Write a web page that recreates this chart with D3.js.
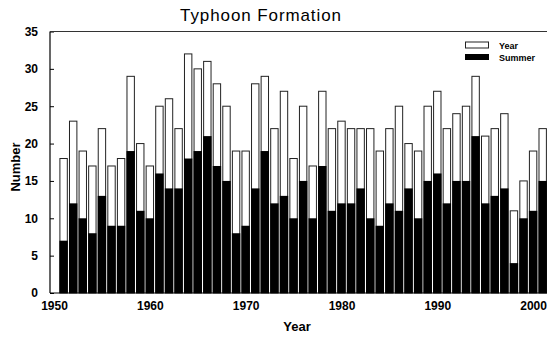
<!DOCTYPE html>
<html><head><meta charset="utf-8">
<script src="https://cdn.jsdelivr.net/npm/d3@7"></script>
<style>body{margin:0;background:#fff}svg{display:block}text{font-family:"Liberation Sans",Arial,sans-serif}</style>
</head><body>
<script>
const years = d3.range(1951, 2002);
const yearTotal = [18,23,19,17,22,17,18,29,20,17,25,26,22,32,30,31,28,25,19,19,28,29,22,27,18,25,17,27,22,23,22,22,22,19,22,25,20,19,25,27,22,24,25,29,21,22,24,11,15,19,22];
const summer = [7,12,10,8,13,9,9,19,11,10,16,14,14,18,19,21,17,15,8,9,14,19,12,13,10,15,10,17,11,12,12,14,10,9,12,11,14,10,15,16,12,15,15,21,12,13,14,4,10,11,15];
const yTicks = [0,5,10,15,20,25,30,35];
const xTicks = [1950,1960,1970,1980,1990,2000];

const W=547,H=338;
const svg=d3.select("body").append("svg").attr("width",W).attr("height",H);
const L=50,R=547,T=31.5,B=293;
const x=d3.scaleLinear().domain([1949.58,2001.45]).range([L,R]);
const y=d3.scaleLinear().domain([0,35]).range([B,T]);
const bw=7.4;

const g=svg.append("g");
g.selectAll("rect.yr").data(years).enter().append("rect")
 .attr("x",d=>x(d)-bw/2).attr("width",bw)
 .attr("y",(d,i)=>y(yearTotal[i])).attr("height",(d,i)=>B-y(yearTotal[i]))
 .attr("fill","#fff").attr("stroke","#222").attr("stroke-width",1);
g.selectAll("rect.sm").data(years).enter().append("rect")
 .attr("x",d=>x(d)-bw/2-0.5).attr("width",bw+1)
 .attr("y",(d,i)=>y(summer[i])).attr("height",(d,i)=>B-y(summer[i]))
 .attr("fill","#000");

// axes
const ya=svg.append("g").attr("transform",`translate(${L},0)`)
 .call(d3.axisLeft(y).tickValues(yTicks).tickSize(-4).tickPadding(12));
ya.select(".domain").remove();
ya.selectAll("text").attr("font-size",12).attr("font-weight","bold").attr("fill","#000");
ya.selectAll("line").attr("stroke","#000");
const xa=svg.append("g").attr("transform",`translate(0,${B})`)
 .call(d3.axisBottom(x).tickValues(xTicks).tickFormat(d3.format("d")).tickSize(0).tickPadding(8));
xa.select(".domain").remove();
xa.selectAll("text").attr("font-size",12).attr("font-weight","bold").attr("fill","#000");

svg.append("line").attr("x1",L).attr("x2",L).attr("y1",T).attr("y2",B).attr("stroke","#000").attr("stroke-width",1.2);
svg.append("line").attr("x1",L).attr("x2",R).attr("y1",B).attr("y2",B).attr("stroke","#000").attr("stroke-width",1.2);
svg.append("line").attr("x1",L).attr("x2",R).attr("y1",T).attr("y2",T).attr("stroke","#333").attr("stroke-width",1);

// titles
svg.append("text").attr("x",261).attr("y",21).attr("text-anchor","middle").attr("font-size",17).attr("letter-spacing",0.9).attr("fill","#000").text("Typhoon Formation");
svg.append("text").attr("x",297).attr("y",331).attr("text-anchor","middle").attr("font-size",13).attr("font-weight","bold").attr("fill","#000").text("Year");
svg.append("text").attr("transform","translate(20,167) rotate(-90)").attr("text-anchor","middle").attr("font-size",13).attr("font-weight","bold").attr("fill","#000").text("Number");

// legend
const lg=svg.append("g");
lg.append("rect").attr("x",465.5).attr("y",42).attr("width",23).attr("height",6).attr("fill","#fff").attr("stroke","#222");
lg.append("rect").attr("x",465).attr("y",54).attr("width",24).attr("height",6).attr("fill","#000");
lg.append("text").attr("x",499).attr("y",48.5).attr("font-size",9).attr("font-weight","bold").text("Year");
lg.append("text").attr("x",499).attr("y",60.5).attr("font-size",9).attr("font-weight","bold").text("Summer");
</script>
</body></html>
